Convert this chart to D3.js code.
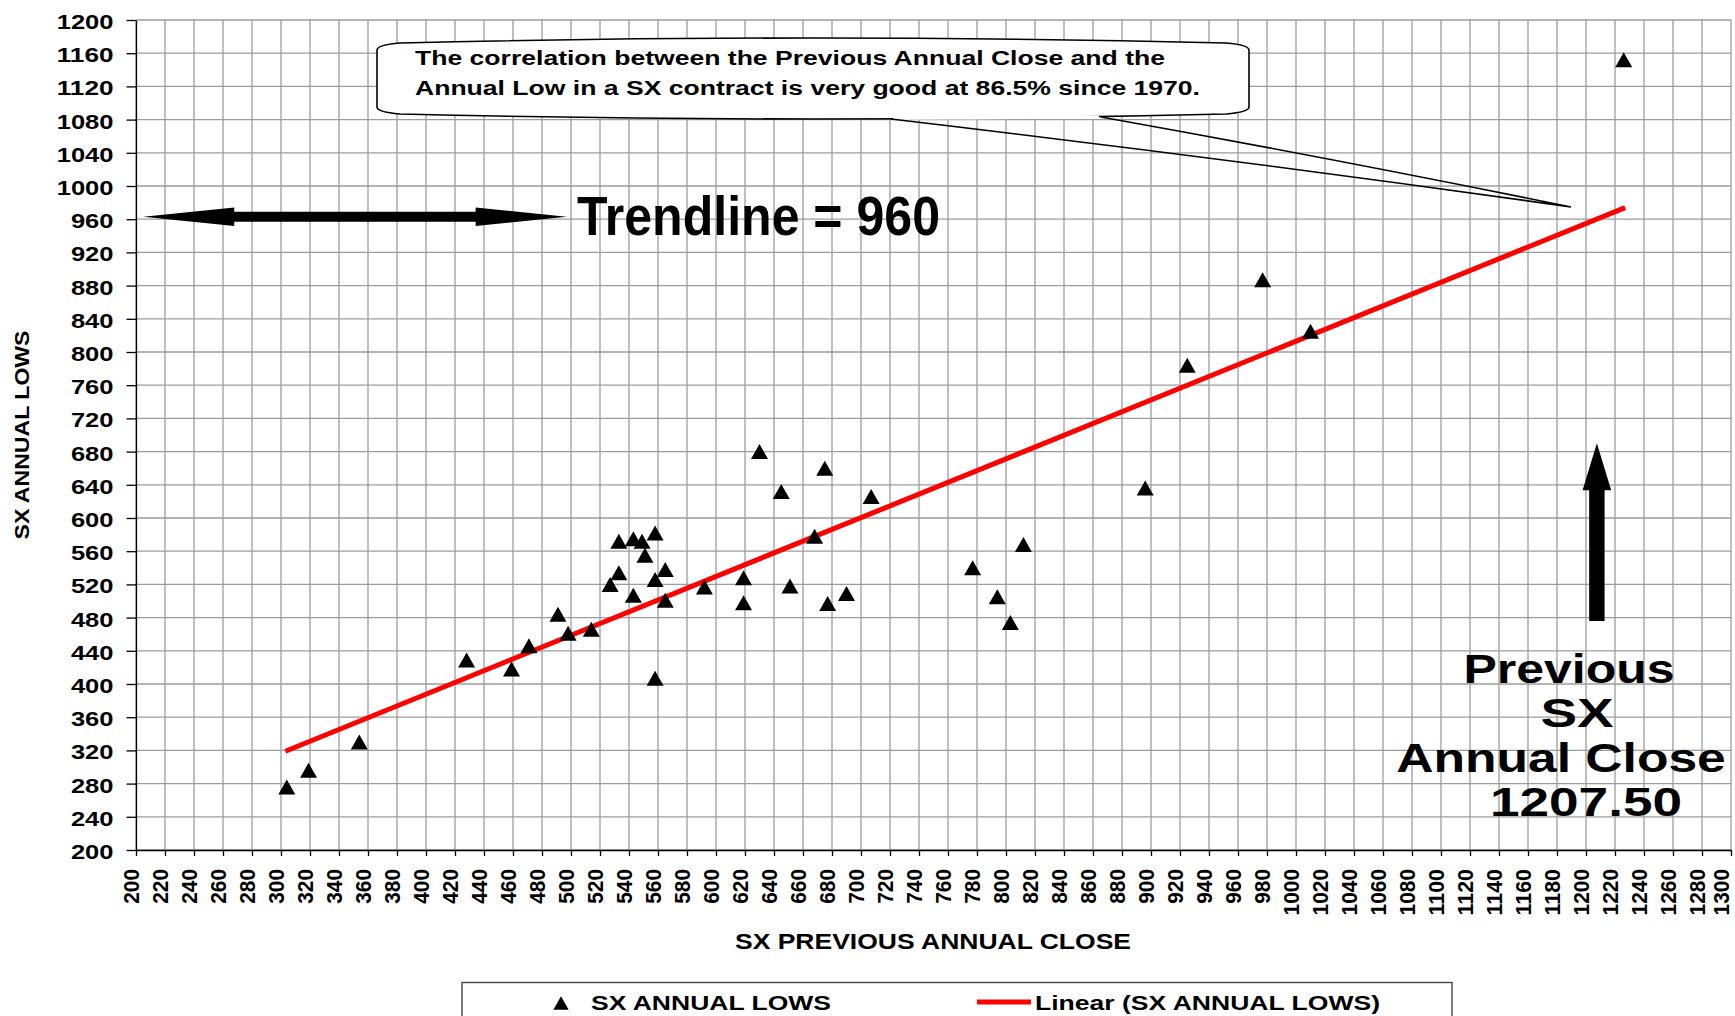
<!DOCTYPE html>
<html>
<head>
<meta charset="utf-8">
<script src="https://cdn.jsdelivr.net/npm/d3@7"></script>
<style>
    body { margin: 0; background: #fff; }
    text { font-family: "Liberation Sans", Arial, sans-serif; font-weight: bold; fill: #000; }
    .grid line { stroke: #9c9c9c; stroke-width: 1.3; }
    .axis path, .axis line { stroke: #000; stroke-width: 1.3; }
</style>
</head>
<body>
<div id="chart"></div>
<script>
// previous annual close (x) and the annual low that followed (y)
const prevClose = [304, 319, 354, 428, 459, 471, 491, 498, 514, 527, 533, 533, 543, 543, 549, 551,
    558, 558, 558, 565, 565, 592, 619, 619, 630, 645, 651, 668, 675, 677, 690, 707,
    777, 794, 803, 812, 896, 925, 977, 1010, 1226];
const annualLow = [276, 296, 330, 429, 418, 446, 484, 461, 466, 520, 534, 572, 575, 507, 572, 555,
    582, 526, 407, 538, 501, 517, 528, 498, 680, 632, 518, 578, 660, 497, 509, 626,
    540, 505, 474, 568, 636, 784, 887, 825, 1152];

// linear trendline as drawn (end points)
const trendX = [303, 1227];
const trendY = [319, 974];

const xTicks = d3.range(200, 1301, 20);
const yTicks = d3.range(200, 1201, 40);

const calloutLines = [
    "The correlation between the Previous Annual Close and the",
    "Annual Low in a SX contract is very good at 86.5% since 1970."
];
const closeLines = ["Previous", "SX", "Annual Close", "1207.50"];
const lastClose = 1207.5;
const trendValue = 963;

var width = 1735, height = 1016;
var margin = { top: 20, right: 4, left: 136, bottom: 166 };

const svg = d3.select("#chart").append("svg")
    .attr("width", width)
    .attr("height", height);

var x = d3.scaleLinear().domain([200, 1300]).range([margin.left, width - margin.right]);
var y = d3.scaleLinear().domain([200, 1200]).range([height - margin.bottom, margin.top]);
var fmt = d3.format("d");

// grid
const grid = svg.append("g").attr("class", "grid");
grid.selectAll(".v").data(xTicks).enter().append("line")
    .attr("x1", d => x(d)).attr("x2", d => x(d))
    .attr("y1", y(200)).attr("y2", y(1200));
grid.selectAll(".h").data(yTicks).enter().append("line")
    .attr("x1", x(200)).attr("x2", x(1300))
    .attr("y1", d => y(d)).attr("y2", d => y(d));

// axes
svg.append("g").attr("class", "axis")
    .attr("transform", "translate(" + x(200) + ",0)")
    .call(d3.axisLeft(y).tickValues(yTicks).tickFormat(fmt).tickSize(9.5).tickPadding(13).tickSizeOuter(0))
    .selectAll("text")
    .style("font-size", "20px")
    .attr("dy", "0.42em")
    .attr("textLength", d => fmt(d).length * 14.2)
    .attr("lengthAdjust", "spacingAndGlyphs");

svg.append("g").attr("class", "axis")
    .attr("transform", "translate(0," + y(200) + ")")
    .call(d3.axisBottom(x).tickValues(xTicks).tickFormat(fmt).tickSize(6).tickSizeOuter(0))
    .selectAll("text")
    .style("font-size", "22px")
    .style("text-anchor", "end")
    .attr("transform", "rotate(-90)")
    .attr("x", -19)
    // keep the last label inside the page edge
    .attr("y", d => d == 1300 ? -5 : 0)
    .attr("dy", "0.13em")
    .attr("textLength", d => fmt(d).length * 11.6)
    .attr("lengthAdjust", "spacingAndGlyphs");

// axis titles
svg.append("text")
    .attr("x", 933).attr("y", 949)
    .style("font-size", "22px")
    .style("text-anchor", "middle")
    .attr("textLength", 396).attr("lengthAdjust", "spacingAndGlyphs")
    .text("SX PREVIOUS ANNUAL CLOSE");

svg.append("text")
    .attr("transform", "translate(29,435) rotate(-90)")
    .style("font-size", "20px")
    .style("text-anchor", "middle")
    .attr("textLength", 209).attr("lengthAdjust", "spacingAndGlyphs")
    .text("SX ANNUAL LOWS");

// callout bubble
svg.append("path")
    .attr("d", "M377,50 Q377,45 400,43 Q813,33 1226,43 Q1249,45 1249,50 L1249,107 " +
        "Q1249,112 1226,114 Q813,124 400,114 Q377,112 377,107 Z")
    .attr("fill", "#fff")
    .attr("stroke", "#000")
    .attr("stroke-width", 1.6);
svg.append("line")
    .attr("x1", 893).attr("x2", 1099).attr("y1", 118.5).attr("y2", 117)
    .attr("stroke", "#fff").attr("stroke-width", 3);
svg.append("path")
    .attr("d", "M891,119 Q1240,160 1571,207 Q1330,158 1101,117")
    .attr("fill", "none")
    .attr("stroke", "#000")
    .attr("stroke-width", 1.6);

svg.selectAll(".callout").data(calloutLines).enter().append("text")
    .attr("x", 415)
    .attr("y", (d, i) => 65 + i * 30)
    .style("font-size", "20px")
    .attr("textLength", (d, i) => i == 0 ? 750 : 785)
    .attr("lengthAdjust", "spacingAndGlyphs")
    .text(d => d);

// trendline
svg.append("line")
    .attr("x1", x(trendX[0])).attr("y1", y(trendY[0]))
    .attr("x2", x(trendX[1])).attr("y2", y(trendY[1]))
    .attr("stroke", "#ff0000")
    .attr("stroke-width", 5);

// triangle markers, centred on their box like Excel does
const tri = "M0,-7.5L8.5,7.5L-8.5,7.5Z";
svg.selectAll(".pt").data(prevClose).enter().append("path")
    .attr("class", "pt")
    .attr("d", tri)
    .attr("transform", (d, i) => "translate(" + x(d) + "," + y(annualLow[i]) + ")")
    .attr("fill", "#000");

// double arrow pointing at the trendline value
var ay = y(trendValue), ax0 = x(205), ax1 = x(497);
svg.append("path")
    .attr("d", "M" + ax0 + "," + ay + " L" + (ax0 + 91) + "," + (ay - 9.2) + " L" + (ax0 + 91) + "," + (ay - 5) +
        " L" + (ax1 - 91) + "," + (ay - 5) + " L" + (ax1 - 91) + "," + (ay - 9.2) + " L" + ax1 + "," + ay +
        " L" + (ax1 - 91) + "," + (ay + 9.2) + " L" + (ax1 - 91) + "," + (ay + 5) +
        " L" + (ax0 + 91) + "," + (ay + 5) + " L" + (ax0 + 91) + "," + (ay + 9.2) + " Z")
    .attr("fill", "#000");

svg.append("text")
    .attr("x", 577).attr("y", 235)
    .style("font-size", "56px")
    .attr("textLength", 363).attr("lengthAdjust", "spacingAndGlyphs")
    .text("Trendline = " + Math.floor(trendValue / 10) * 10);

// up arrow at the last close
var vx = x(lastClose), vTop = y(690), vBot = y(476);
svg.append("path")
    .attr("d", "M" + vx + "," + vTop + " L" + (vx + 14.3) + "," + (vTop + 47) + " L" + (vx + 7.7) + "," + (vTop + 47) +
        " L" + (vx + 7.7) + "," + vBot + " L" + (vx - 7.7) + "," + vBot + " L" + (vx - 7.7) + "," + (vTop + 47) +
        " L" + (vx - 14.3) + "," + (vTop + 47) + " Z")
    .attr("fill", "#000");

// wide lettering: centre x, baseline, horizontal stretch
const closePos = [[1569, 683, 1.25], [1577, 727, 1.37], [1561, 772, 1.29], [1586, 816, 1.33]];
svg.selectAll(".close").data(closeLines).enter().append("text")
    .attr("transform", (d, i) => "translate(" + closePos[i][0] + "," + closePos[i][1] + ") scale(" + closePos[i][2] + ",1)")
    .style("text-anchor", "middle")
    .style("font-size", "40px")
    .text(d => d);

// legend
const legend = svg.append("g");
legend.append("rect")
    .attr("x", 462).attr("y", 982.5)
    .attr("width", 990).attr("height", 60)
    .attr("fill", "#fff")
    .attr("stroke", "#444")
    .attr("stroke-width", 1.4);
legend.append("path")
    .attr("d", tri)
    .attr("transform", "translate(561,1003) scale(0.9)")
    .attr("fill", "#000");
legend.append("text")
    .attr("x", 591).attr("y", 1010)
    .style("font-size", "21px")
    .attr("textLength", 240).attr("lengthAdjust", "spacingAndGlyphs")
    .text("SX ANNUAL LOWS");
legend.append("line")
    .attr("x1", 977).attr("x2", 1031).attr("y1", 1002).attr("y2", 1002)
    .attr("stroke", "#ff0000").attr("stroke-width", 5);
legend.append("text")
    .attr("x", 1035).attr("y", 1010)
    .style("font-size", "21px")
    .attr("textLength", 345).attr("lengthAdjust", "spacingAndGlyphs")
    .text("Linear (SX ANNUAL LOWS)");
</script>
</body>
</html>
